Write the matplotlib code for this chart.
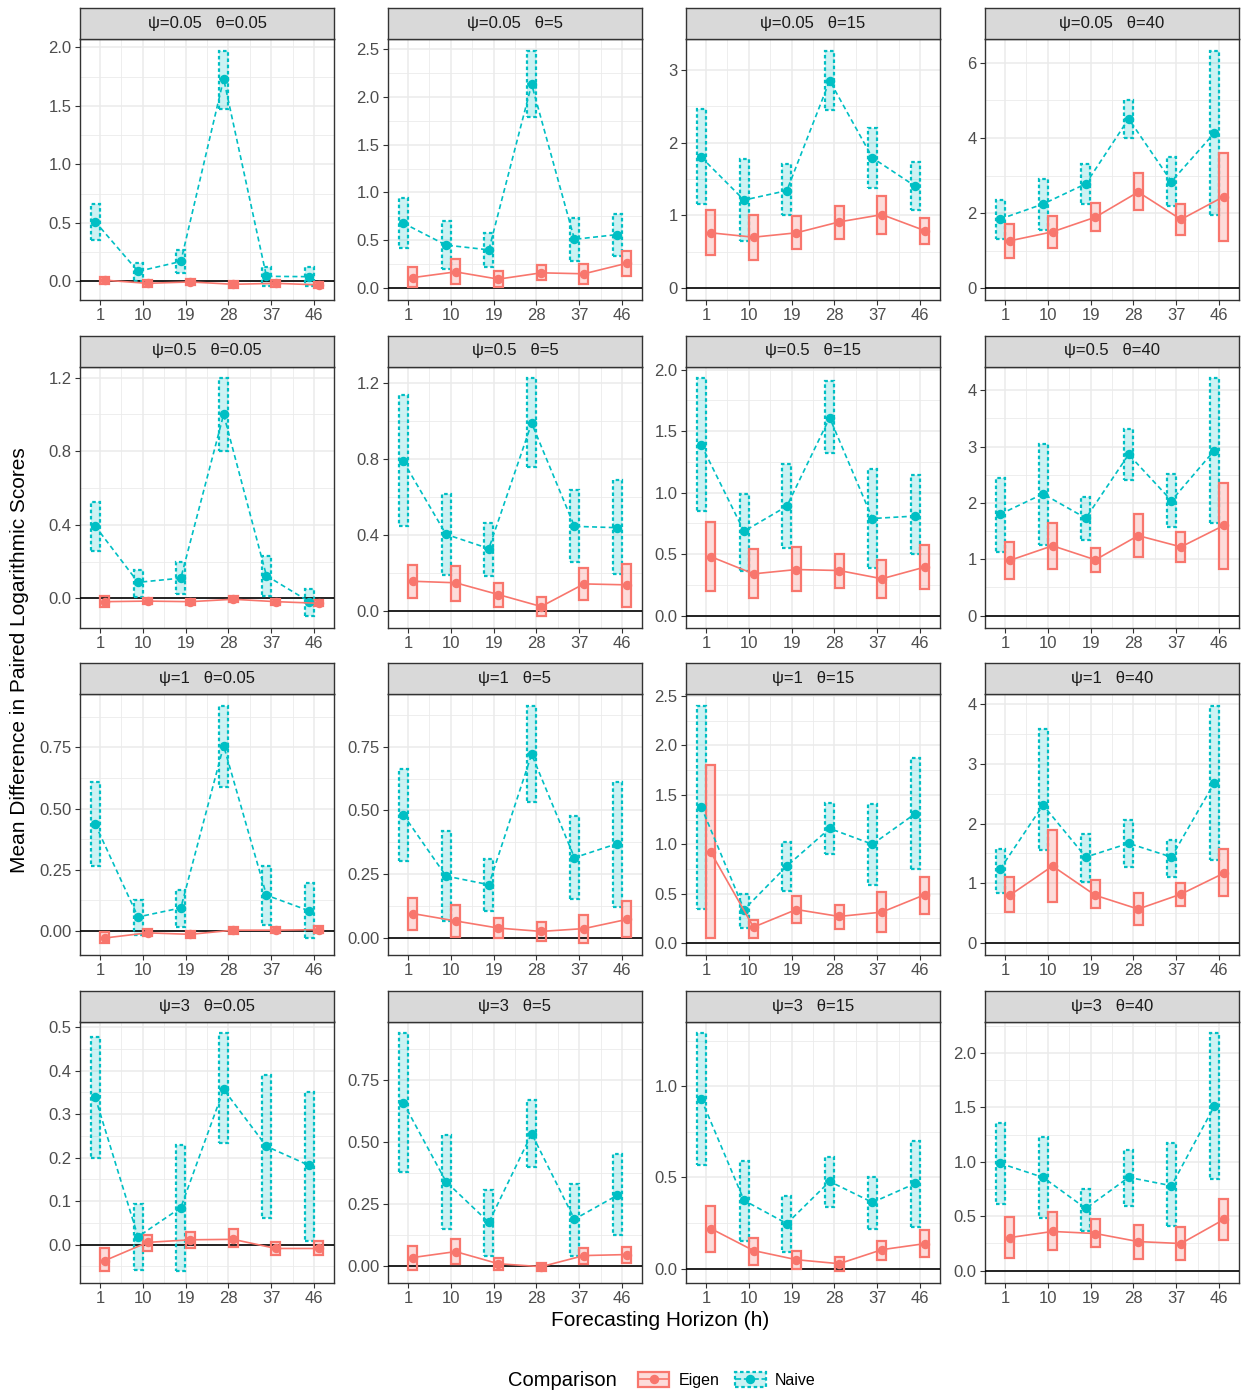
import matplotlib.pyplot as plt
import numpy as np
from matplotlib.patches import Patch
from matplotlib.lines import Line2D
from matplotlib.legend_handler import HandlerTuple

plt.rcParams['font.family'] = ['Liberation Sans', 'DejaVu Sans']

# facets: rows = psi, columns = theta
horizons = [1, 10, 19, 28, 37, 46]
psis = ['0.05', '0.5', '1', '3']
thetas = ['0.05', '5', '15', '40']

# one row per panel (row-major: psi then theta), one value per horizon
naive_mean = [
    [0.51, 0.085, 0.17, 1.73, 0.043, 0.04],
    [0.68, 0.45, 0.40, 2.13, 0.51, 0.56],
    [1.80, 1.21, 1.34, 2.85, 1.79, 1.40],
    [1.84, 2.24, 2.78, 4.51, 2.84, 4.13],
    [0.393, 0.087, 0.11, 1.00, 0.123, -0.018],
    [0.79, 0.405, 0.33, 0.99, 0.447, 0.44],
    [1.39, 0.686, 0.89, 1.61, 0.79, 0.81],
    [1.80, 2.16, 1.73, 2.86, 2.04, 2.93],
    [0.436, 0.057, 0.094, 0.757, 0.146, 0.082],
    [0.484, 0.243, 0.209, 0.72, 0.315, 0.37],
    [1.38, 0.34, 0.78, 1.16, 1.00, 1.31],
    [1.24, 2.31, 1.44, 1.67, 1.44, 2.68],
    [0.339, 0.018, 0.085, 0.357, 0.226, 0.182],
    [0.66, 0.34, 0.175, 0.534, 0.188, 0.285],
    [0.93, 0.374, 0.247, 0.478, 0.363, 0.467],
    [0.986, 0.857, 0.571, 0.857, 0.78, 1.51],
]
naive_lo = [
    [0.35, 0.005, 0.07, 1.47, -0.04, -0.037],
    [0.42, 0.20, 0.22, 1.79, 0.28, 0.34],
    [1.15, 0.65, 1.00, 2.45, 1.38, 1.08],
    [1.31, 1.55, 2.23, 4.01, 2.20, 1.96],
    [0.26, 0.01, 0.024, 0.80, 0.013, -0.094],
    [0.447, 0.19, 0.188, 0.76, 0.259, 0.197],
    [0.85, 0.367, 0.55, 1.32, 0.39, 0.50],
    [1.13, 1.25, 1.35, 2.40, 1.57, 1.65],
    [0.266, -0.018, 0.016, 0.59, 0.023, -0.031],
    [0.30, 0.067, 0.106, 0.534, 0.152, 0.122],
    [0.35, 0.15, 0.53, 0.90, 0.59, 0.75],
    [0.84, 1.56, 1.02, 1.27, 1.10, 1.39],
    [0.200, -0.058, -0.06, 0.233, 0.062, 0.009],
    [0.38, 0.147, 0.04, 0.40, 0.04, 0.126],
    [0.566, 0.154, 0.093, 0.34, 0.22, 0.23],
    [0.61, 0.48, 0.36, 0.59, 0.41, 0.84],
]
naive_hi = [
    [0.66, 0.16, 0.27, 1.97, 0.12, 0.12],
    [0.94, 0.70, 0.58, 2.48, 0.73, 0.78],
    [2.46, 1.77, 1.70, 3.26, 2.20, 1.73],
    [2.36, 2.91, 3.31, 5.02, 3.49, 6.32],
    [0.526, 0.154, 0.20, 1.196, 0.23, 0.05],
    [1.14, 0.616, 0.466, 1.226, 0.637, 0.69],
    [1.93, 0.99, 1.23, 1.905, 1.19, 1.14],
    [2.44, 3.05, 2.10, 3.32, 2.52, 4.21],
    [0.607, 0.128, 0.169, 0.92, 0.265, 0.197],
    [0.662, 0.42, 0.31, 0.91, 0.48, 0.61],
    [2.40, 0.50, 1.02, 1.42, 1.405, 1.87],
    [1.57, 3.58, 1.82, 2.06, 1.72, 3.97],
    [0.477, 0.094, 0.23, 0.486, 0.39, 0.352],
    [0.94, 0.53, 0.306, 0.67, 0.33, 0.45],
    [1.29, 0.588, 0.396, 0.61, 0.505, 0.70],
    [1.36, 1.23, 0.747, 1.106, 1.17, 2.18],
]
eigen_mean = [
    [0.01, -0.017, -0.005, -0.025, -0.017, -0.03],
    [0.11, 0.17, 0.094, 0.16, 0.15, 0.26],
    [0.76, 0.70, 0.76, 0.91, 1.01, 0.79],
    [1.26, 1.50, 1.89, 2.56, 1.83, 2.44],
    [-0.018, -0.015, -0.018, -0.005, -0.018, -0.027],
    [0.158, 0.15, 0.088, 0.025, 0.144, 0.139],
    [0.48, 0.34, 0.375, 0.367, 0.30, 0.395],
    [0.98, 1.24, 0.99, 1.42, 1.22, 1.60],
    [-0.029, -0.008, -0.014, 0.003, 0.003, 0.005],
    [0.096, 0.067, 0.039, 0.026, 0.037, 0.073],
    [0.92, 0.162, 0.34, 0.27, 0.314, 0.49],
    [0.80, 1.29, 0.80, 0.57, 0.82, 1.17],
    [-0.037, 0.005, 0.011, 0.012, -0.009, -0.009],
    [0.033, 0.057, 0.008, -0.004, 0.041, 0.045],
    [0.22, 0.099, 0.049, 0.027, 0.104, 0.137],
    [0.304, 0.36, 0.341, 0.267, 0.249, 0.47],
]
eigen_lo = [
    [-0.02, -0.045, -0.033, -0.053, -0.045, -0.058],
    [0.01, 0.04, 0.007, 0.08, 0.04, 0.13],
    [0.45, 0.39, 0.54, 0.68, 0.75, 0.61],
    [0.80, 1.07, 1.51, 2.07, 1.42, 1.26],
    [-0.045, -0.032, -0.035, -0.022, -0.035, -0.044],
    [0.07, 0.056, 0.025, -0.023, 0.06, 0.025],
    [0.20, 0.14, 0.20, 0.226, 0.144, 0.218],
    [0.65, 0.82, 0.77, 1.04, 0.95, 0.82],
    [-0.05, -0.022, -0.028, -0.012, -0.01, -0.01],
    [0.033, 0.004, 0.001, -0.013, -0.02, 0.004],
    [0.054, 0.054, 0.203, 0.145, 0.111, 0.29],
    [0.52, 0.69, 0.59, 0.30, 0.62, 0.79],
    [-0.06, -0.014, -0.007, -0.005, -0.023, -0.023],
    [-0.016, 0.008, -0.016, -0.02, 0.008, 0.012],
    [0.093, 0.022, 0.0, -0.011, 0.049, 0.066],
    [0.12, 0.19, 0.22, 0.11, 0.10, 0.286],
]
eigen_hi = [
    [0.038, 0.011, 0.023, 0.003, 0.011, -0.002],
    [0.22, 0.30, 0.18, 0.24, 0.25, 0.39],
    [1.08, 1.01, 0.99, 1.13, 1.27, 0.97],
    [1.71, 1.91, 2.27, 3.07, 2.23, 3.61],
    [0.012, 0.002, -0.001, 0.012, -0.001, -0.010],
    [0.246, 0.24, 0.15, 0.074, 0.229, 0.25],
    [0.76, 0.54, 0.56, 0.50, 0.455, 0.577],
    [1.31, 1.65, 1.20, 1.80, 1.49, 2.36],
    [-0.006, 0.006, 0.0, 0.018, 0.016, 0.02],
    [0.158, 0.128, 0.079, 0.063, 0.089, 0.145],
    [1.80, 0.236, 0.476, 0.39, 0.517, 0.67],
    [1.10, 1.89, 1.05, 0.84, 1.00, 1.57],
    [-0.009, 0.023, 0.03, 0.035, 0.005, 0.009],
    [0.08, 0.106, 0.03, 0.012, 0.073, 0.077],
    [0.346, 0.17, 0.099, 0.066, 0.154, 0.214],
    [0.49, 0.535, 0.47, 0.415, 0.405, 0.654],
]

yticks = [
    [0, 0.5, 1, 1.5, 2], [0, 0.5, 1, 1.5, 2, 2.5], [0, 1, 2, 3], [0, 2, 4, 6],
    [0, 0.4, 0.8, 1.2], [0, 0.4, 0.8, 1.2], [0, 0.5, 1, 1.5, 2], [0, 1, 2, 3, 4],
    [0, 0.25, 0.5, 0.75], [0, 0.25, 0.5, 0.75], [0, 0.5, 1, 1.5, 2, 2.5], [0, 1, 2, 3, 4],
    [0, 0.1, 0.2, 0.3, 0.4, 0.5], [0, 0.25, 0.5, 0.75], [0, 0.5, 1], [0, 0.5, 1, 1.5, 2],
]
ydecimals = [1, 1, 0, 0, 1, 1, 1, 0, 2, 2, 1, 0, 1, 2, 1, 1]

RED = '#F8766D'
TEAL = '#00BFC4'
DOTS = (0, (1.6, 1.2))

W, H = 1244, 1394
fig = plt.figure(figsize=(W / 100, H / 100), dpi=100)

col_left = [80, 388, 686, 985]
strip_top = [8, 335.5, 663, 990.5]
pw, sh, ph = 254, 31, 261

def box(px_left, px_top, px_w, px_h):
    return [px_left / W, 1 - (px_top + px_h) / H, px_w / W, px_h / H]

def draw_series(ax, x, mean, lo, hi, color, dashed, alpha):
    x = np.asarray(x)
    lo = np.asarray(lo)
    hi = np.asarray(hi)
    ax.bar(x, hi - lo, bottom=lo, width=1.9, color=color, alpha=alpha, zorder=3)
    ax.bar(x, hi - lo, bottom=lo, width=1.9, fill=False, edgecolor=color,
           linewidth=1.6, linestyle=DOTS if dashed else '-', zorder=3.5)
    ax.hlines(mean, x - 0.95, x + 0.95, color=color, lw=1.2, zorder=3.6,
              linestyles=DOTS if dashed else '-')
    line, = ax.plot(x, mean, color=color, lw=1.2, marker='o', ms=5.8, zorder=4)
    if dashed:
        line.set_dashes((3, 2))

for i, psi in enumerate(psis):
    for j, theta in enumerate(thetas):
        k = i * 4 + j
        ax = fig.add_axes(box(col_left[j], strip_top[i] + sh, pw, ph))
        sax = fig.add_axes(box(col_left[j], strip_top[i], pw, sh))
        sax.set_facecolor('#D9D9D9')
        sax.set_xticks([])
        sax.set_yticks([])
        for s in sax.spines.values():
            s.set_color('#333333')
            s.set_linewidth(1.0)
        sax.text(0.5, 0.5, 'ψ=' + psi + '   θ=' + theta, ha='center', va='center',
                 fontsize=12, color='#1A1A1A', transform=sax.transAxes)

        h = np.array(horizons)
        draw_series(ax, h - 1, naive_mean[k], naive_lo[k], naive_hi[k], TEAL, True, 0.2)
        draw_series(ax, h + 1, eigen_mean[k], eigen_lo[k], eigen_hi[k], RED, False, 0.25)
        ax.axhline(0, color='black', lw=1.2, zorder=3.2)

        yt = yticks[k]
        step = yt[1] - yt[0]
        ax.set_yticks(yt)
        ax.set_yticklabels([f'{v:.{ydecimals[k]}f}' for v in yt])
        minors = [yt[0] - step / 2] + [v + step / 2 for v in yt]
        ax.set_yticks(minors, minor=True)
        ax.set_xticks(horizons)
        ax.set_xticklabels([str(v) for v in horizons])
        ax.set_xticks([v + 4.5 for v in horizons[:-1]], minor=True)

        ymin = min(min(naive_lo[k]), min(eigen_lo[k]), 0)
        ymax = max(max(naive_hi[k]), max(eigen_hi[k]), 0)
        pad = 0.05 * (ymax - ymin)
        ax.set_ylim(ymin - pad, ymax + pad)
        ax.set_xlim(-3.2, 50.2)

        ax.set_axisbelow(True)
        ax.grid(which='major', color='#EBEBEB', lw=1.1)
        ax.grid(which='minor', color='#EBEBEB', lw=0.6)
        ax.tick_params(which='major', labelsize=12, labelcolor='#4D4D4D',
                       color='#333333', length=3.5, width=0.8, pad=2.5)
        ax.tick_params(which='minor', length=0)
        for s in ax.spines.values():
            s.set_color('#333333')
            s.set_linewidth(1.0)

fig.text(660 / W, 1 - 1320 / H, 'Forecasting Horizon (h)', ha='center', va='center', fontsize=15)
fig.text(20 / W, 1 - 660 / H, 'Mean Difference in Paired Logarithmic Scores',
         ha='center', va='center', rotation=90, fontsize=15)

# legend
fig.text(508 / W, 1 - 1380 / H, 'Comparison', ha='left', va='center', fontsize=14.5)
pe = Patch(facecolor=(0.973, 0.463, 0.427, 0.25), edgecolor=RED, linewidth=1.6)
le = Line2D([], [], color=RED, lw=1.2, marker='o', ms=5.8)
pn = Patch(facecolor=(0.0, 0.749, 0.769, 0.2), edgecolor=TEAL, linewidth=1.6, linestyle=DOTS)
ln = Line2D([], [], color=TEAL, lw=1.2, marker='o', ms=5.8, linestyle='--')
fig.legend(handles=[(pe, le), (pn, ln)], labels=['Eigen', 'Naive'], ncol=2,
           loc='center left', bbox_to_anchor=(624 / W, 1 - 1380 / H), frameon=False,
           handler_map={tuple: HandlerTuple(ndivide=1)}, fontsize=11.5,
           handlelength=1.9, handleheight=1.1, columnspacing=1.0, handletextpad=0.6)

fig.savefig('out.png', dpi=100)
